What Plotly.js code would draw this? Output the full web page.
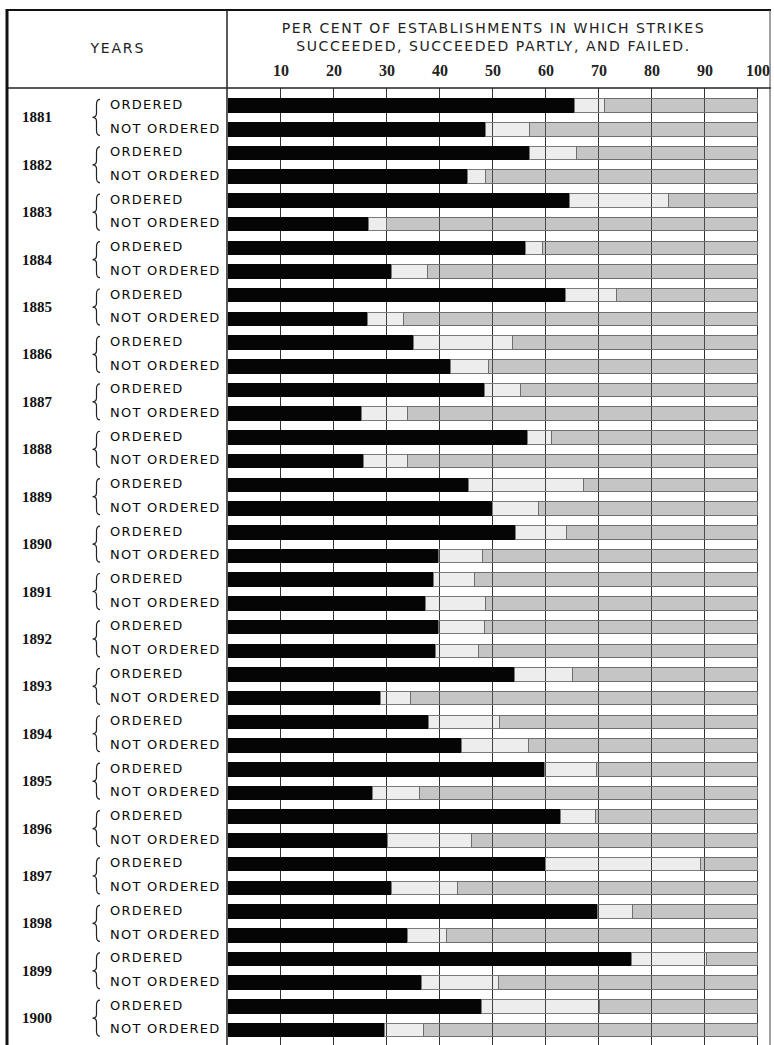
<!DOCTYPE html>
<html>
<head>
<meta charset="utf-8">
<script src="https://cdn.plot.ly/plotly-3.0.1.min.js"></script>
<style>
html,body{margin:0;padding:0;background:#fff;}
#chart{width:774px;height:1045px;}
</style>
</head>
<body>
<div id="chart"></div>
<script>
// ---- data (per cent of establishments) ----
var years = [1881,1882,1883,1884,1885,1886,1887,1888,1889,1890,1891,1892,1893,1894,1895,1896,1897,1898,1899,1900];
var groupLabels = ["ORDERED", "NOT ORDERED"];
var tickValues = [10,20,30,40,50,60,70,80,90,100];
var tickLabels = ["10","20","30","40","50","60","70","80","90","100"];

var orderedSucceeded = [65.3,56.8,64.5,56.2,63.6,35.0,48.4,56.5,45.4,54.2,38.7,39.8,54.0,37.8,59.7,62.8,60.0,69.7,76.1,47.9];
var orderedPartly    = [5.8,8.9,18.6,3.1,9.8,18.7,6.7,4.6,21.7,9.7,7.9,8.6,11.1,13.4,9.9,6.6,29.1,6.7,14.2,22.2];
var orderedFailed    = [28.9,34.3,16.9,40.7,26.6,46.3,44.9,38.9,32.9,36.1,53.4,51.6,34.9,48.8,30.4,30.6,10.9,23.6,9.7,29.9];

var notOrderedSucceeded = [48.6,45.2,26.5,30.9,26.3,42.0,25.1,25.5,50.0,39.8,37.2,39.2,28.7,44.0,27.3,30.1,30.8,33.8,36.6,29.6];
var notOrderedPartly    = [8.2,3.4,3.4,6.7,6.8,7.1,8.8,8.4,8.6,8.2,11.4,8.0,5.7,12.7,8.8,15.9,12.5,7.4,14.5,7.3];
var notOrderedFailed    = [43.2,51.4,70.1,62.4,66.9,50.9,66.1,66.1,41.4,52.0,51.4,52.8,65.6,43.3,63.9,54.0,56.7,58.8,48.9,63.1];

// ---- build interleaved rows (ordered, not ordered per year) ----
var slots = [], succ = [], part = [], fail = [];
years.forEach(function(y, i){
  slots.push(2*i);   succ.push(orderedSucceeded[i]);    part.push(orderedPartly[i]);    fail.push(orderedFailed[i]);
  slots.push(2*i+1); succ.push(notOrderedSucceeded[i]); part.push(notOrderedPartly[i]); fail.push(notOrderedFailed[i]);
});

var barW = 0.57;
var traces = [
  {type:'bar', orientation:'h', name:'Succeeded', y:slots, x:succ, width:barW,
   marker:{color:'#050505', line:{color:'#050505', width:1}}, hoverinfo:'x'},
  {type:'bar', orientation:'h', name:'Succeeded partly', y:slots, x:part, width:barW,
   marker:{color:'rgba(140,140,140,0.16)', line:{color:'#7a7a7a', width:1}}, hoverinfo:'x'},
  {type:'bar', orientation:'h', name:'Failed', y:slots, x:fail, width:barW,
   marker:{color:'rgba(110,110,110,0.40)', line:{color:'#6e6e6e', width:1}}, hoverinfo:'x'}
];

// pixel helpers for frame decorations
var L = 228, R = 15, T = 88, B = 0, W = 774, H = 1045;
var pw = W - L - R, ph = H - T - B;
function px(x){ return (x - L) / pw; }
function py(y){ return (H - B - y) / ph; }

var shapes = [
  {type:'line', xref:'paper', yref:'paper', x0:px(7), x1:px(7), y0:py(9), y1:py(1045), line:{color:'#111', width:3}},
  {type:'line', xref:'paper', yref:'paper', x0:px(6), x1:px(771), y0:py(10), y1:py(10), line:{color:'#111', width:2}},
  {type:'line', xref:'paper', yref:'paper', x0:px(227), x1:px(227), y0:py(10), y1:py(1045), line:{color:'#222', width:1.5}},
  {type:'line', xref:'paper', yref:'paper', x0:px(7), x1:px(771), y0:py(88), y1:py(88), line:{color:'#222', width:1.5}},
  {type:'line', xref:'paper', yref:'paper', x0:px(770), x1:px(770), y0:py(10), y1:py(1045), line:{color:'#444', width:1}}
];

// curly braces joining each year's two rows
years.forEach(function(yr, i){
  var c = 2*i + 0.5, h = 0.76;
  var xa = px(100), xs = px(96.5), xt = px(92.5);
  var d = 'M' + xa + ',' + (c-h) +
          ' Q' + xs + ',' + (c-h) + ' ' + xs + ',' + (c-h+0.22) +
          ' L' + xs + ',' + (c-0.17) +
          ' Q' + xs + ',' + c + ' ' + xt + ',' + c +
          ' Q' + xs + ',' + c + ' ' + xs + ',' + (c+0.17) +
          ' L' + xs + ',' + (c+h-0.22) +
          ' Q' + xs + ',' + (c+h) + ' ' + xa + ',' + (c+h);
  shapes.push({type:'path', xref:'paper', yref:'y', path:d, line:{color:'#222', width:1.2}});
});

var annotations = [
  {xref:'paper', yref:'paper', x:px(117), y:py(48), text:'YEARS', showarrow:false,
   xanchor:'center', yanchor:'middle', font:{family:'DejaVu Sans', size:14, color:'#222'}}
];
years.forEach(function(yr, i){
  annotations.push({xref:'paper', yref:'y', x:px(37), y:2*i+0.5, text:String(yr), showarrow:false,
    xanchor:'center', yanchor:'middle', font:{family:'Liberation Serif', size:15, color:'#111', weight:'bold'}});
  groupLabels.forEach(function(g, k){
    annotations.push({xref:'paper', yref:'y', x:px(108), y:2*i+k - 0.05, text:g, showarrow:false,
      xanchor:'left', align:'left', yanchor:'middle', font:{family:'DejaVu Sans', size:13, color:'#0a0a0a'}});
  });
});

var layout = {
  width:W, height:H,
  margin:{l:L, r:R, t:T, b:B, pad:0},
  paper_bgcolor:'#fff', plot_bgcolor:'#fff',
  barmode:'stack', bargap:0, showlegend:false,
  title:{text:'PER CENT OF ESTABLISHMENTS IN WHICH STRIKES<br>SUCCEEDED, SUCCEEDED PARTLY, AND FAILED.',
    xref:'paper', x:0.5, xanchor:'center', yref:'container', y:1 - 33/H, yanchor:'middle',
    font:{family:'DejaVu Sans', size:14, color:'#222'}},
  xaxis:{range:[0,100.2], side:'top', tickvals:tickValues, ticktext:tickLabels,
    ticks:'outside', ticklen:5, tickcolor:'rgba(0,0,0,0)',
    tickfont:{family:'Liberation Serif', size:16, color:'#222', weight:'bold'},
    showgrid:true, gridcolor:'#333', gridwidth:1, zeroline:false, showline:false, fixedrange:true},
  yaxis:{range:[39.63, -0.74], showticklabels:false, ticks:'', showgrid:false, zeroline:false, showline:false, fixedrange:true},
  shapes:shapes,
  annotations:annotations
};

Plotly.newPlot('chart', traces, layout, {displayModeBar:false, staticPlot:true}).then(function(gd){
  var t = gd.querySelector('.gtitle');
  if (t) t.style.letterSpacing = '1.55px';
  gd.querySelectorAll('g.annotation text').forEach(function(el){
    var s = el.textContent;
    if (s === 'YEARS') el.style.letterSpacing = '1.8px';
    else if (s === 'ORDERED' || s === 'NOT ORDERED') el.style.letterSpacing = '1.25px';
  });
});
</script>
</body>
</html>
